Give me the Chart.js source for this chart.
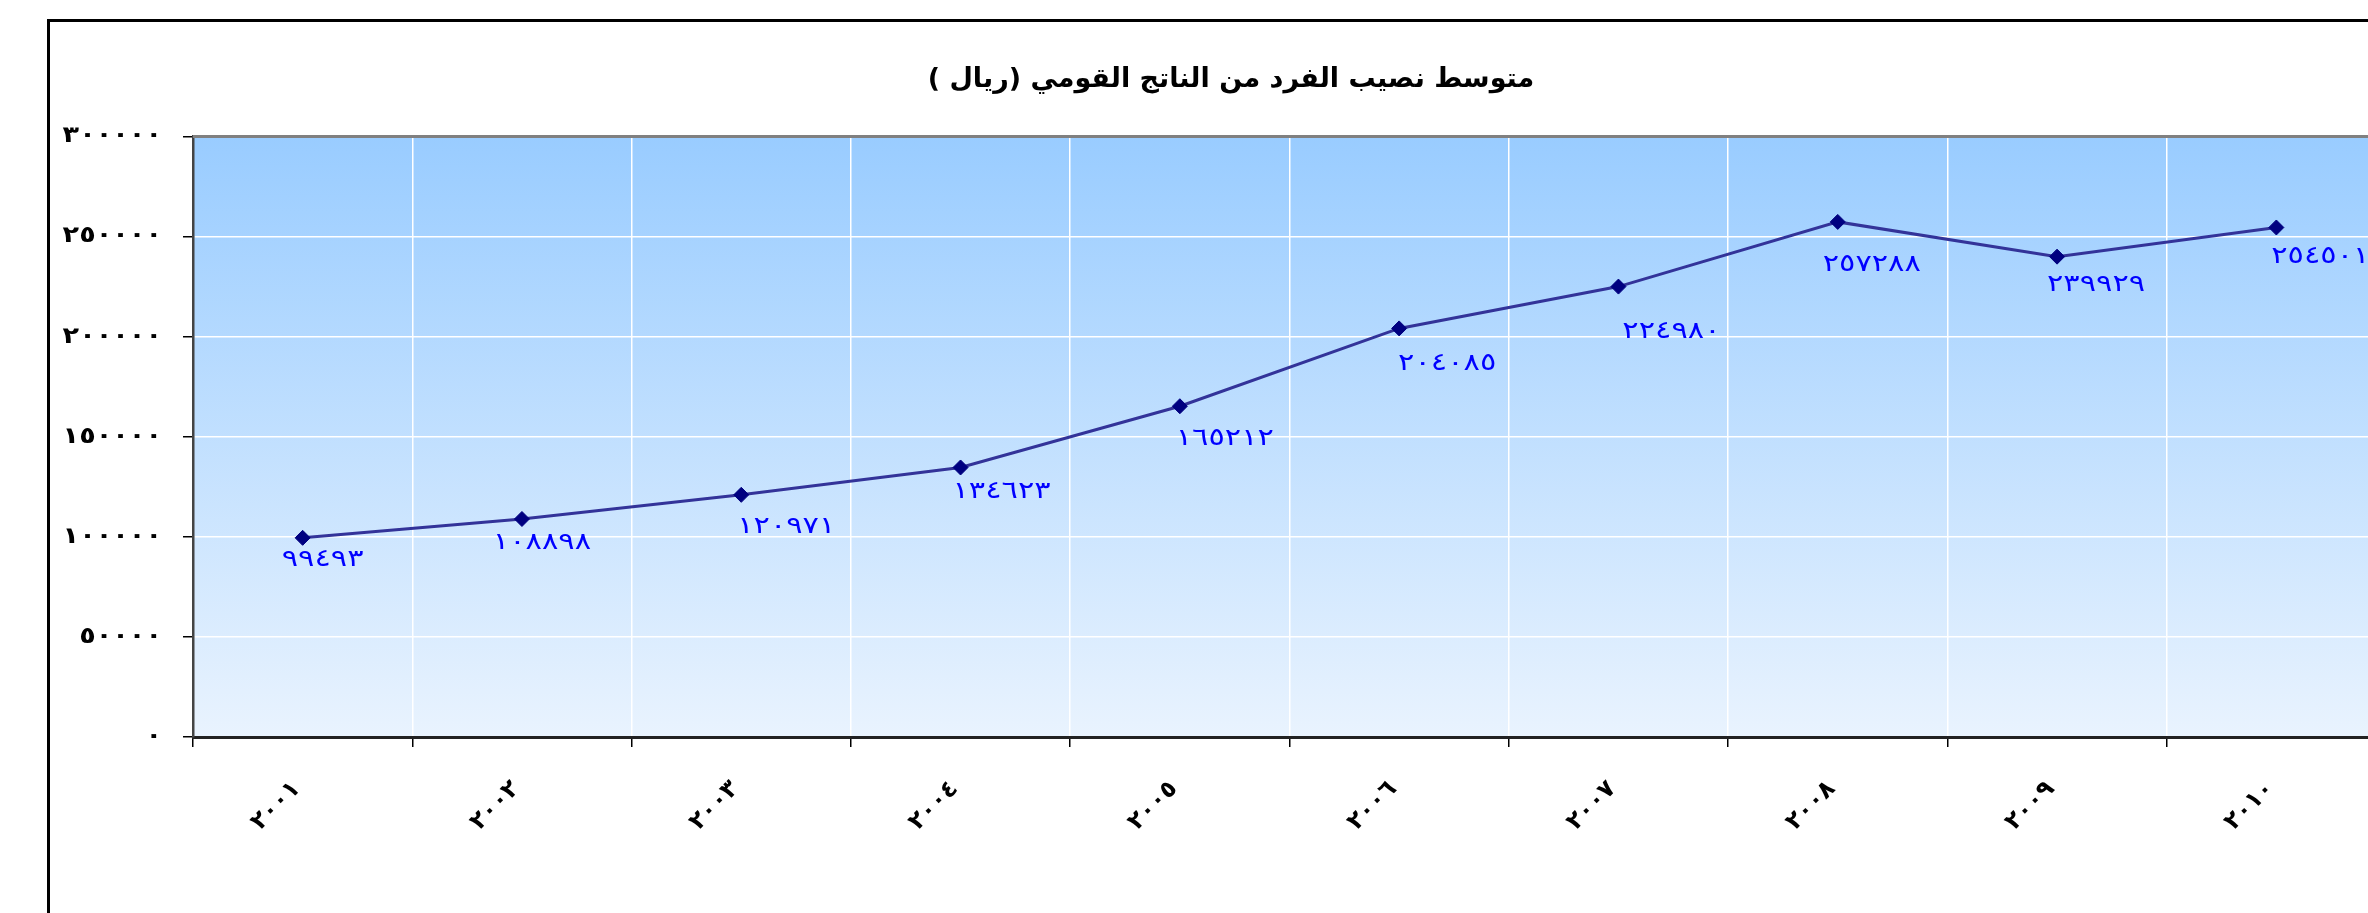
<!DOCTYPE html>
<html lang="ar">
<head>
<meta charset="utf-8">
<title>متوسط نصيب الفرد من الناتج القومي</title>
<script src="https://cdn.jsdelivr.net/npm/chart.js@4.4.1/dist/chart.umd.min.js"></script>
<style>
    html, body { margin: 0; padding: 0; background: #fff; overflow: hidden; }
    body { width: 2368px; height: 913px; position: relative; }
    #frame {
        position: absolute;
        left: 47px;
        top: 19px;
        width: 2360px;
        height: 960px;
        border: 3px solid #000;
        background: #fff;
    }
    #frame canvas { display: block; }
</style>
</head>
<body>
<div id="frame"><canvas id="gnpChart"></canvas></div>
<script>
// السنوات (محور الفئات)
const years = ['٢٠٠١', '٢٠٠٢', '٢٠٠٣', '٢٠٠٤', '٢٠٠٥', '٢٠٠٦', '٢٠٠٧', '٢٠٠٨', '٢٠٠٩', '٢٠١٠'];
// متوسط نصيب الفرد (ريال)
const perCapita = [99493, 108898, 120971, 134623, 165212, 204085, 224980, 257288, 239929, 254501];
// تسميات المحور الرأسي
const yTickValues = [0, 50000, 100000, 150000, 200000, 250000, 300000];
const yTickLabels = ['٠', '٥٠٠٠٠', '١٠٠٠٠٠', '١٥٠٠٠٠', '٢٠٠٠٠٠', '٢٥٠٠٠٠', '٣٠٠٠٠٠'];

// إزاحة تسميات القيم عن النقاط (بالبكسل) كما في الأصل
const labelShift = [[20, 10], [20, 12], [45, 20], [41, 13], [45, 21], [48, 24], [53, 33], [34, 31], [39, 16], [44, 18]];

const FONT = "'DejaVu Sans', sans-serif";

// تحويل الأرقام إلى الأرقام الهندية
function toArabicDigits(n) {
    return String(n).replace(/[0-9]/g, d => '٠١٢٣٤٥٦٧٨٩'[d]);
}

// خلفية متدرجة لمنطقة الرسم + الحد العلوي الرمادي
const plotBackground = {
    id: 'plotBackground',
    beforeDraw(chart) {
        const { ctx, chartArea: a } = chart;
        const g = ctx.createLinearGradient(0, a.top, 0, a.bottom);
        g.addColorStop(0, '#99CCFF');
        g.addColorStop(1, '#E9F3FE');
        ctx.save();
        ctx.fillStyle = g;
        ctx.fillRect(a.left, a.top, a.right - a.left, a.bottom - a.top);
        ctx.restore();
    },
    beforeDatasetsDraw(chart) {
        const { ctx, chartArea: a } = chart;
        ctx.save();
        ctx.strokeStyle = '#808080';
        ctx.lineWidth = 3;
        ctx.beginPath();
        ctx.moveTo(a.left, a.top);
        ctx.lineTo(a.right, a.top);
        ctx.stroke();
        ctx.restore();
    }
};

// تسميات القيم أسفل النقاط + أرقام المحور الرأسي (بخط أعرض قليلا)
const valueLabels = {
    id: 'valueLabels',
    afterDatasetsDraw(chart) {
        const ctx = chart.ctx;
        const meta = chart.getDatasetMeta(0);
        ctx.save();
        ctx.font = '24px ' + FONT;
        ctx.fillStyle = '#0000FF';
        ctx.textAlign = 'center';
        ctx.textBaseline = 'alphabetic';
        meta.data.forEach((pt, i) => {
            const s = labelShift[i];
            ctx.save();
            ctx.translate(pt.x + s[0], pt.y + s[1] + 18);
            ctx.scale(1.27, 1);
            ctx.fillText(toArabicDigits(perCapita[i]), 0, 0);
            ctx.restore();
        });
        ctx.restore();
    },
    afterDraw(chart) {
        const ctx = chart.ctx;
        const y = chart.scales.y;
        const xRight = y.right - 10 - 21;
        ctx.save();
        ctx.font = 'bold 23px ' + FONT;
        ctx.fillStyle = '#000';
        ctx.textAlign = 'right';
        ctx.textBaseline = 'middle';
        y.ticks.forEach(t => {
            const i = yTickValues.indexOf(t.value);
            if (i < 0) return;
            ctx.save();
            ctx.translate(xRight, y.getPixelForValue(t.value));
            ctx.scale(1.18, 1);
            ctx.fillText(yTickLabels[i], 0, 0);
            ctx.restore();
        });
        ctx.restore();
    }
};

const ctx = document.getElementById('gnpChart').getContext('2d');
const gnpChart = new Chart(ctx, {
    type: 'line',
    data: {
        labels: years,
        datasets: [{
            data: perCapita,
            borderColor: '#333399',
            borderWidth: 3,
            pointStyle: 'rectRot',
            pointRadius: 7.5,
            pointBackgroundColor: '#000080',
            pointBorderColor: '#000080',
            pointBorderWidth: 1,
            tension: 0,
            fill: false
        }]
    },
    options: {
        responsive: true,
        maintainAspectRatio: false,
        animation: false,
        layout: { padding: { left: 26, top: 0, right: 24, bottom: 0 } },
        plugins: {
            legend: { display: false },
            tooltip: { enabled: false },
            title: {
                display: true,
                text: 'متوسط نصيب الفرد من الناتج القومي (ريال )',
                color: '#000',
                font: { family: FONT, size: 27, weight: 'bold', lineHeight: 1.2 },
                padding: { top: 42, bottom: 40 }
            }
        },
        scales: {
            x: {
                offset: true,
                grid: {
                    offset: true,
                    color: '#FFFFFF',
                    lineWidth: 1.5,
                    tickColor: '#000',
                    tickLength: 10,
                    tickWidth: 1.5
                },
                border: { display: true, color: '#222', width: 3 },
                ticks: {
                    color: '#000',
                    font: { family: FONT, size: 24, weight: 'bold' },
                    minRotation: 45,
                    maxRotation: 45,
                    padding: 28,
                    labelOffset: -6,
                    autoSkip: false
                },
                afterFit(scale) { scale.height = 245; }
            },
            y: {
                min: 0,
                max: 300000,
                grid: {
                    color: '#FFFFFF',
                    lineWidth: 1.5,
                    tickColor: '#000',
                    tickLength: 10,
                    tickWidth: 1.5
                },
                border: { display: true, color: '#444', width: 2.5 },
                ticks: {
                    display: false,
                    stepSize: 50000
                },
                afterFit(scale) { scale.width = 117; }
            }
        }
    },
    plugins: [plotBackground, valueLabels]
});
</script>
</body>
</html>
